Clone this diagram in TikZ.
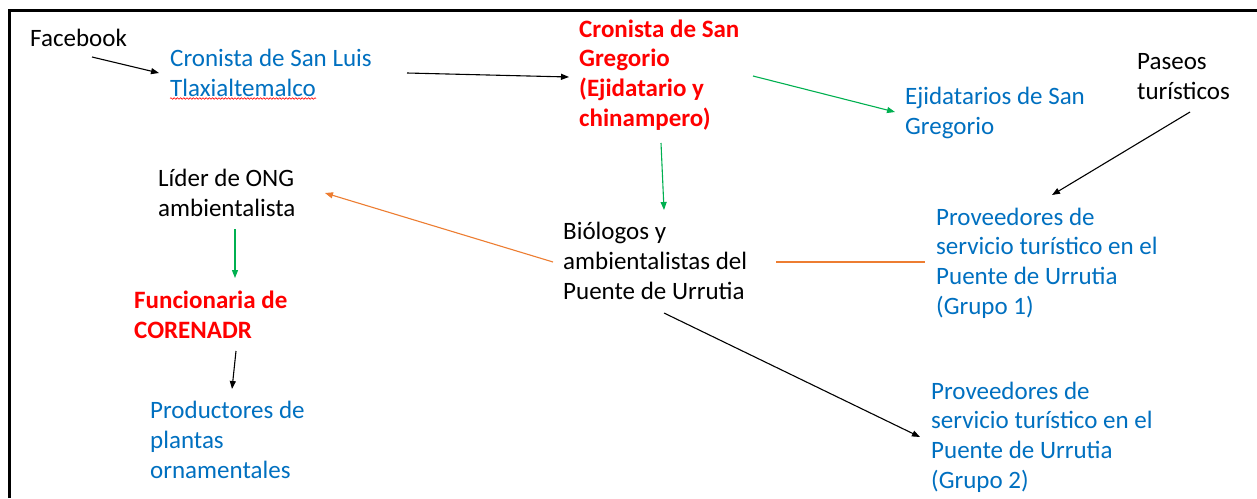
\documentclass[tikz,border=0pt]{standalone}
\usepackage{fontspec}
\setmainfont{Carlito}
\usetikzlibrary{arrows.meta,decorations.pathmorphing}
\definecolor{wblue}{HTML}{0070C0}
\definecolor{wred}{HTML}{FF0000}
\definecolor{wgreen}{HTML}{00B050}
\definecolor{worange}{HTML}{ED7D31}
\tikzset{
  txt/.style={anchor=base west, inner sep=0pt, align=left, font=\fontsize{25}{29.6}\selectfont},
  bluetxt/.style={txt, text=wblue},
  redtxt/.style={txt, text=wred, font=\fontsize{25}{29.6}\selectfont\bfseries},
  blacktxt/.style={txt, text=black},
  conn/.style={line width=1.1pt, -{Triangle[length=8pt,width=6pt]}},
  plainconn/.style={line width=1.1pt},
}
\begin{document}
\begin{tikzpicture}[x=1pt,y=-1pt]
\useasboundingbox (0,0) rectangle (1257,498);
\fill[white] (0,0) rectangle (1257,498);
\draw[line width=3pt] (9.5,498) -- (9.5,10.5) -- (1257,10.5);

% base anchor = baseline of the last line
\node[blacktxt] (fb) at (30,46) {Facebook};
\node[bluetxt] (csl) at (170,96) {Cronista de San Luis\\Tlaxialtemalco};
\node[redtxt] (csg) at (579,126) {Cronista de San\\Gregorio\\(Ejidatario y\\chinampero)};
\node[bluetxt] (ejid) at (905,134) {Ejidatarios de San\\Gregorio};
\node[blacktxt] (pas) at (1137,99) {Paseos\\turísticos};
\node[blacktxt] (lider) at (158,216) {Líder de ONG\\ambientalista};
\node[redtxt] (func) at (134,338) {Funcionaria de\\CORENADR};
\node[bluetxt] (prod) at (150,478) {Productores de\\plantas\\ornamentales};
\node[blacktxt] (bio) at (563,299) {Biólogos y\\ambientalistas del\\Puente de Urrutia};
\node[bluetxt] (g1) at (936,314) {Proveedores de\\servicio turístico en el\\Puente de Urrutia\\(Grupo 1)};
\node[bluetxt] (g2) at (931,488) {Proveedores de\\servicio turístico en el\\Puente de Urrutia\\(Grupo 2)};

% spell-check underline
\draw[wred, line width=0.6pt, decorate, decoration={snake, amplitude=0.8pt, segment length=3.2pt}] (170,98.5) -- (316,98.5);

% connector end points
\coordinate (fb-o) at (92,57);   \coordinate (csl-i) at (159,73);
\coordinate (csl-o) at (407,73); \coordinate (csg-i) at (569,77);
\coordinate (csg-o) at (753,76); \coordinate (ejid-i) at (895,112);
\coordinate (pas-o) at (1190,112); \coordinate (g1-i) at (1052,195);
\coordinate (csg-b) at (661,143); \coordinate (bio-i) at (664,210);
\coordinate (bio-l) at (553,262); \coordinate (lider-i) at (325,193);
\coordinate (bio-r) at (776,262); \coordinate (g1-l) at (925,262);
\coordinate (bio-b) at (664,313); \coordinate (g2-i) at (920,437);
\coordinate (lider-b) at (235,229); \coordinate (func-i) at (235,278);
\coordinate (func-b) at (236,351); \coordinate (prod-i) at (232,389);

\draw[conn] (fb-o) -- (csl-i);
\draw[conn] (csl-o) -- (csg-i);
\draw[conn, wgreen] (csg-o) -- (ejid-i);
\draw[conn] (pas-o) -- (g1-i);
\draw[conn, wgreen] (csg-b) -- (bio-i);
\draw[conn, worange] (bio-l) -- (lider-i);
\draw[plainconn, worange] (bio-r) -- (g1-l);
\draw[conn] (bio-b) -- (g2-i);
\draw[conn, wgreen] (lider-b) -- (func-i);
\draw[conn] (func-b) -- (prod-i);
\end{tikzpicture}
\end{document}
